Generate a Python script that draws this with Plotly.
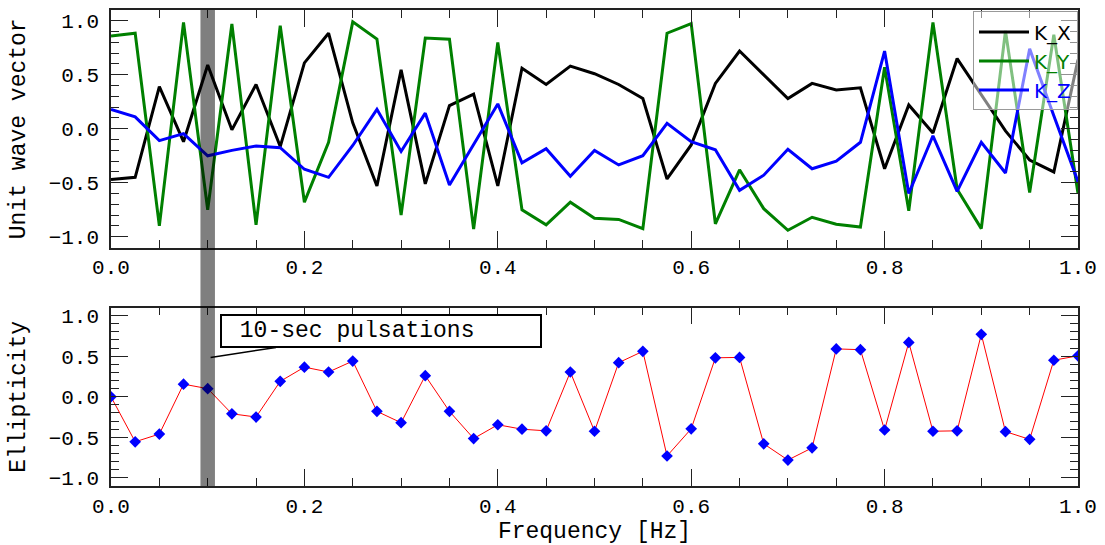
import plotly.graph_objects as go
from plotly.subplots import make_subplots

freq = [0.0, 0.025, 0.05, 0.075, 0.1, 0.125, 0.15, 0.175, 0.2, 0.225,
        0.25, 0.275, 0.3, 0.325, 0.35, 0.375, 0.4, 0.425, 0.45, 0.475,
        0.5, 0.525, 0.55, 0.575, 0.6, 0.625, 0.65, 0.675, 0.7, 0.725,
        0.75, 0.775, 0.8, 0.825, 0.85, 0.875, 0.9, 0.925, 0.95, 0.975, 1.0]

k_x = [-0.47, -0.45, 0.39, -0.12, 0.59, -0.01, 0.41, -0.165, 0.61, 0.885,
       0.055, -0.53, 0.545, -0.51, 0.215, 0.32, -0.53, 0.56, 0.41, 0.58,
       0.51, 0.41, 0.28, -0.465, -0.15, 0.42, 0.72, 0.50, 0.28, 0.42,
       0.36, 0.38, -0.37, 0.22, -0.04, 0.65, 0.32, -0.02, -0.29, -0.40, 0.64]

k_y = [0.86, 0.885, -0.90, 0.985, -0.75, 0.97, -0.89, 0.955, -0.68, -0.125,
       0.99, 0.83, -0.80, 0.84, 0.83, -0.93, 0.80, -0.75, -0.89, -0.68,
       -0.83, -0.84, -0.925, 0.885, 0.975, -0.88, -0.38, -0.74, -0.94, -0.82,
       -0.885, -0.91, 0.57, -0.76, 0.985, -0.56, -0.925, 0.905, -0.59, 0.87, -0.60]

k_z = [0.18, 0.11, -0.11, -0.045, -0.25, -0.20, -0.16, -0.175, -0.375, -0.45,
       -0.155, 0.18, -0.21, 0.145, -0.52, -0.14, 0.23, -0.315, -0.185, -0.44,
       -0.20, -0.335, -0.25, 0.05, -0.12, -0.195, -0.57, -0.43, -0.19, -0.37,
       -0.30, -0.125, 0.72, -0.60, -0.065, -0.58, -0.125, -0.41, 0.74, 0.12, -0.49]

ellipticity = [0.0, -0.555, -0.46, 0.155, 0.10, -0.21, -0.25, 0.19, 0.365, 0.305,
               0.44, -0.18, -0.32, 0.26, -0.18, -0.515, -0.345, -0.40, -0.42, 0.305,
               -0.425, 0.42, 0.56, -0.73, -0.395, 0.48, 0.485, -0.58, -0.78, -0.63,
               0.59, 0.58, -0.41, 0.67, -0.425, -0.42, 0.77, -0.43, -0.525, 0.45, 0.505]

band_x = [0.0925, 0.1075]
x_ticks = [0.0, 0.2, 0.4, 0.6, 0.8, 1.0]
y_ticks = [-1.0, -0.5, 0.0, 0.5, 1.0]

MONO = "Liberation Mono"

fig = make_subplots(rows=2, cols=1, shared_xaxes=False, vertical_spacing=0.0)

fig.add_trace(go.Scatter(x=freq, y=k_x, mode="lines", name="K_X",
                         line=dict(color="black", width=3)), row=1, col=1)
fig.add_trace(go.Scatter(x=freq, y=k_y, mode="lines",
                         name='<span style="color:green">K_Y</span>',
                         line=dict(color="green", width=3)), row=1, col=1)
fig.add_trace(go.Scatter(x=freq, y=k_z, mode="lines",
                         name='<span style="color:blue">K_Z</span>',
                         line=dict(color="blue", width=3)), row=1, col=1)
fig.add_trace(go.Scatter(x=freq, y=ellipticity, mode="lines+markers",
                         showlegend=False,
                         line=dict(color="red", width=1),
                         marker=dict(symbol="diamond", color="blue", size=9,
                                     line=dict(width=0))), row=2, col=1)

axis_common = dict(
    ticks="inside", ticklen=17, tickwidth=1.2, tickcolor="#222",
    showline=True, linecolor="#222", linewidth=1.5, mirror="ticks",
    showgrid=False, zeroline=False,
    tickfont=dict(family=MONO, size=21, color="black"),
)

x_common = dict(axis_common, range=[0, 1], tickvals=x_ticks, tickformat=".1f",
                minor=dict(dtick=0.05, tick0=0, ticklen=8, ticks="inside",
                           tickcolor="#222", tickwidth=1))
y_common = dict(axis_common, range=[-1.1, 1.1], tickvals=y_ticks, tickformat=".1f",
                ticklabelstandoff=6,
                minor=dict(dtick=0.1, tick0=0, ticklen=8, ticks="inside",
                           tickcolor="#222", tickwidth=1))

fig.update_layout(
    width=1105, height=545,
    margin=dict(l=111, r=27, t=8, b=52),
    paper_bgcolor="white", plot_bgcolor="white",
    xaxis=dict(x_common, domain=[0, 1]),
    yaxis=dict(y_common, domain=[0.501, 1],
               title=dict(text="Unit wave vector", standoff=17,
                          font=dict(family=MONO, size=23, color="black"))),
    xaxis2=dict(x_common, domain=[0, 1],
                title=dict(text="Frequency [Hz]", standoff=2,
                           font=dict(family=MONO, size=23, color="black"))),
    yaxis2=dict(y_common, domain=[0, 0.375],
                title=dict(text="Ellipticity", standoff=17,
                           font=dict(family=MONO, size=23, color="black"))),
    legend=dict(x=1, xanchor="right", y=0.997, yanchor="top",
                bgcolor="rgba(255,255,255,0.5)", bordercolor="#999", borderwidth=1,
                font=dict(family="DejaVu Sans", size=20, color="black"),
                itemwidth=50, tracegroupgap=0),
    showlegend=True,
)

fig.add_shape(type="rect", xref="x", yref="paper", x0=band_x[0], x1=band_x[1],
              y0=0, y1=1, fillcolor="rgba(0,0,0,0.5)", line=dict(width=0),
              layer="above")

fig.add_annotation(xref="x2", yref="y2", x=0.103, y=0.485,
                   text="\u00a010-sec pulsations", showarrow=True, arrowhead=0,
                   arrowwidth=1.5, arrowcolor="black", ax=170, ay=-26,
                   align="left", width=310, height=22, borderpad=4,
                   bordercolor="black", borderwidth=2, bgcolor="white",
                   font=dict(family=MONO, size=23, color="black"))

fig.write_html("out.html")
